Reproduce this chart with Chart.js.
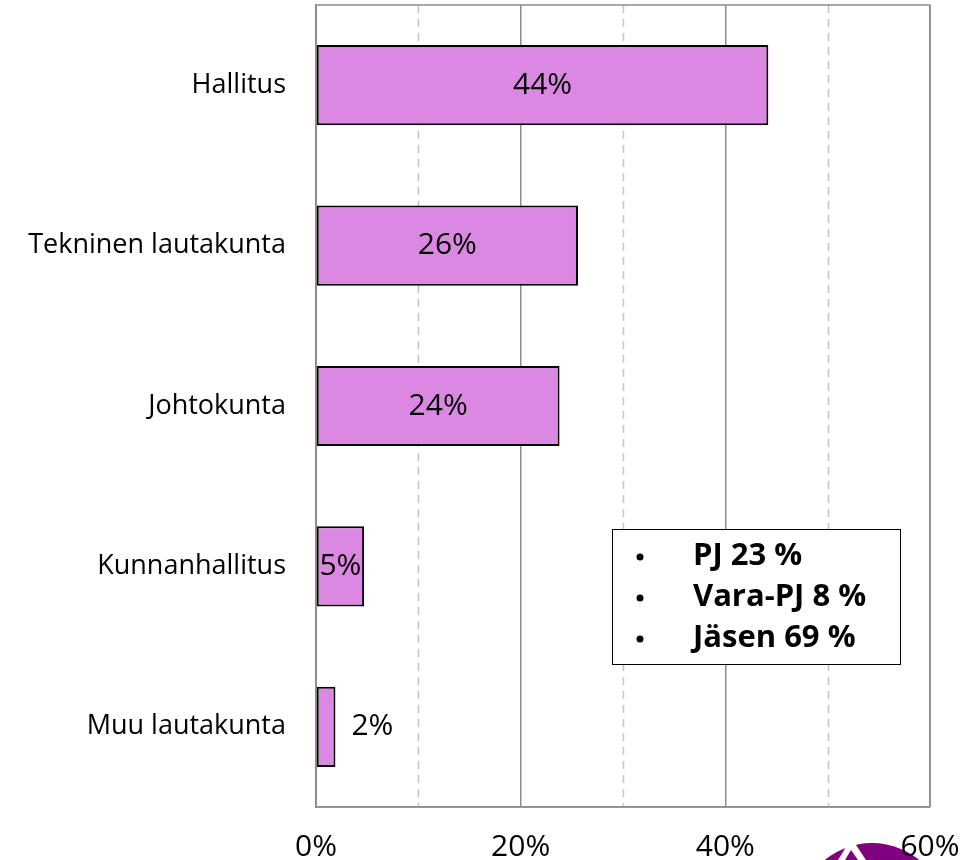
<!DOCTYPE html>
<html><head><meta charset="utf-8">
<script src="https://cdn.jsdelivr.net/npm/chart.js@4/dist/chart.umd.min.js"></script>
<style>html,body{margin:0;padding:0;background:#fff}#wrap{width:961px;height:860px;position:relative}</style>
</head><body><div id="wrap"><canvas id="c"></canvas></div>
<script>
const categories = ["Hallitus", "Tekninen lautakunta", "Johtokunta", "Kunnanhallitus", "Muu lautakunta"];
const values = [44.2, 25.6, 23.8, 4.7, 1.9];
const valueLabels = ["44%", "26%", "24%", "5%", "2%"];
const boxLines = ["PJ 23 %", "Vara-PJ 8 %", "Jäsen 69 %"];
const dashedGridValues = [10, 30, 50];
const FONT = "'Open Sans', sans-serif";

const labelPlugin = {
  id: 'labels',
  afterDatasetsDraw(chart) {
    const ctx = chart.ctx;
    const meta = chart.getDatasetMeta(0);
    ctx.save();
    ctx.fillStyle = '#000';
    ctx.font = "30px " + FONT;
    ctx.textBaseline = 'middle';
    meta.data.forEach((bar, i) => {
      const w = bar.x - bar.base;
      if (w < 30) {
        ctx.textAlign = 'left';
        ctx.fillText(valueLabels[i], bar.x + 16, bar.y);
      } else {
        ctx.textAlign = 'center';
        ctx.fillText(valueLabels[i], (bar.x + bar.base) / 2, bar.y);
      }
    });
    ctx.restore();
  }
};

const boxPlugin = {
  id: 'box',
  beforeDraw(chart) {
    const ctx = chart.ctx;
    ctx.save();
    ctx.fillStyle = '#800080';
    ctx.beginPath();
    ctx.arc(872, 917, 74, 0, Math.PI * 2);
    ctx.fill();
    ctx.fillStyle = '#fff';
    ctx.beginPath();
    ctx.moveTo(849, 842); ctx.lineTo(854, 842); ctx.lineTo(866, 860); ctx.lineTo(858, 860);
    ctx.lineTo(851, 850); ctx.lineTo(845, 860); ctx.lineTo(838, 860);
    ctx.closePath(); ctx.fill();
    ctx.restore();
  },
  beforeDatasetsDraw(chart) {
    const { ctx, chartArea: a, scales: { x } } = chart;
    ctx.save();
    ctx.strokeStyle = '#c4c4c4';
    ctx.lineWidth = 1.5;
    ctx.setLineDash([8, 6]);
    dashedGridValues.forEach(v => {
      const px = Math.round(x.getPixelForValue(v)) + 0.5;
      ctx.beginPath();
      ctx.moveTo(px, a.top);
      ctx.lineTo(px, a.bottom);
      ctx.stroke();
    });
    ctx.setLineDash([]);
    ctx.strokeStyle = '#8c8c8c';
    ctx.strokeRect(a.left, a.top, a.right - a.left, a.bottom - a.top);
    ctx.restore();
  },
  afterDraw(chart) {
    const ctx = chart.ctx;
    ctx.save();
    const bx = 612, by = 529, bw = 288, bh = 135;
    ctx.fillStyle = '#fff';
    ctx.fillRect(bx, by, bw, bh);
    ctx.strokeStyle = '#000';
    ctx.lineWidth = 1;
    ctx.strokeRect(bx + 0.5, by + 0.5, bw, bh);
    ctx.fillStyle = '#000';
    ctx.font = "bold 31px " + FONT;
    ctx.textBaseline = 'middle';
    boxLines.forEach((t, i) => {
      const ly = by + 27 + i * 41;
      ctx.beginPath();
      ctx.arc(bx + 28, ly + 1, 3.5, 0, Math.PI * 2);
      ctx.fill();
      ctx.textAlign = 'left';
      ctx.fillText(t, bx + 81, ly);
    });
    ctx.restore();
  }
};

function noPad(s) {
  s.paddingTop = 0; s.paddingBottom = 0; s.paddingLeft = 0; s.paddingRight = 0;
}

new Chart(document.getElementById('c'), {
  type: 'bar',
  data: {
    labels: categories,
    datasets: [{
      data: values,
      backgroundColor: '#DA88E2',
      borderColor: '#000',
      borderWidth: 2,
      borderSkipped: false,
      categoryPercentage: 1.0,
      barPercentage: 0.5
    }]
  },
  options: {
    indexAxis: 'y',
    responsive: true,
    maintainAspectRatio: false,
    animation: false,
    events: [],
    layout: { padding: { top: 5, right: 31, left: 0, bottom: 0 } },
    plugins: { legend: { display: false }, tooltip: { enabled: false } },
    scales: {
      x: {
        min: 0, max: 60,
        afterFit(s) { s.height = 53; noPad(s); },
        ticks: {
          stepSize: 10,
          autoSkip: false,
          maxRotation: 0,
          padding: 22,
          color: '#000',
          font: { family: FONT, size: 30 },
          callback: v => (v % 20 === 0 ? v + '%' : '')
        },
        grid: {
          drawTicks: false,
          color: c => (c.tick && c.tick.value % 20 === 0 ? '#8c8c8c' : 'rgba(0,0,0,0)'),
          lineWidth: 1.5
        },
        border: { display: true, color: '#8c8c8c', width: 1.5 }
      },
      y: {
        afterFit(s) { s.width = 316; noPad(s); },
        ticks: {
          padding: 30,
          color: '#000',
          font: { family: FONT, size: 27 }
        },
        grid: { display: false, drawTicks: false },
        border: { display: true, color: '#8c8c8c', width: 1.5 }
      }
    }
  },
  plugins: [labelPlugin, boxPlugin]
});
</script></body></html>
